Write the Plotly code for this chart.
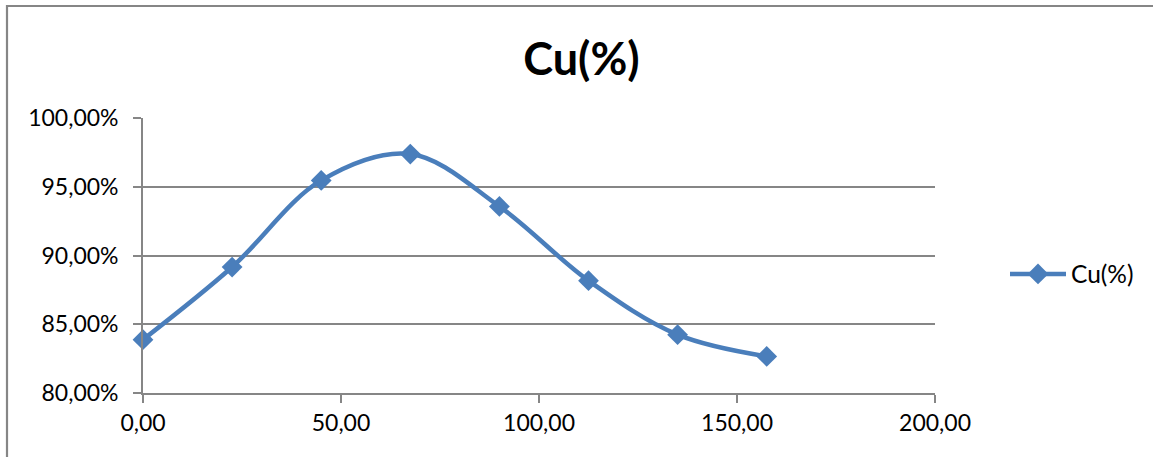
import plotly.graph_objects as go

x_values = [0.0, 22.5, 45.0, 67.5, 90.0, 112.5, 135.0, 157.5]
cu_percent = [83.88, 89.16, 95.46, 97.38, 93.57, 88.17, 84.24, 82.66]
series_name = "Cu(%)"
chart_title = "Cu(%)"

FONT = "Lato"
BLUE = "#4A7EBB"
GRID = "#868686"

W, H = 1153, 457
L, R, T, B = 143, 218, 118, 64

fig = go.Figure()
fig.add_trace(go.Scatter(
    x=x_values, y=cu_percent, name=series_name,
    mode="lines+markers",
    line=dict(color=BLUE, width=4.5, shape="spline", smoothing=1.0),
    marker=dict(symbol="diamond", size=16, color=BLUE),
    cliponaxis=False,
))

pw = W - L - R
ph = H - T - B
def px_x(p):
    return (p - L) / pw
def px_y(p):
    return (H - B - p) / ph

fig.update_layout(
    width=W, height=H,
    margin=dict(l=L, r=R, t=T, b=B),
    paper_bgcolor="white", plot_bgcolor="white",
    separators=",.",
    font=dict(family=FONT, size=23, color="black"),
    title=dict(text="<b>" + chart_title + "</b>", x=581.5 / W, xref="container",
               xanchor="center", y=1 - 59 / H, yref="container", yanchor="middle",
               font=dict(family=FONT, size=45, color="black")),
    xaxis=dict(range=[0, 200], dtick=50, tick0=0, tickformat=".2f",
               showgrid=False, showline=True, linecolor=GRID, linewidth=1.8,
               ticks="outside", ticklen=8, tickcolor=GRID, tickwidth=1.8,
               zeroline=False, fixedrange=True),
    yaxis=dict(range=[80, 100], dtick=5, tick0=80, tickformat=".2f", ticksuffix="%",
               showgrid=True, gridcolor=GRID, gridwidth=1.8,
               showline=True, linecolor=GRID, linewidth=1.8,
               ticks="outside", ticklen=8, tickcolor=GRID, tickwidth=1.8,
               ticklabelstandoff=10, zeroline=False, fixedrange=True),
    legend=dict(x=px_x(1005), xanchor="left", y=px_y(274), yanchor="middle",
                itemwidth=56, font=dict(family=FONT, size=24.5, color="black"),
                bgcolor="rgba(0,0,0,0)"),
    showlegend=True,
    shapes=[dict(type="rect", xref="paper", yref="paper",
                 x0=px_x(7), x1=px_x(1165), y0=px_y(470), y1=px_y(6),
                 line=dict(color=GRID, width=2.2), fillcolor="rgba(0,0,0,0)", layer="below")],
)

fig.write_html("out.html", config={"displayModeBar": False},
               post_script="document.body.style.margin='0';")
